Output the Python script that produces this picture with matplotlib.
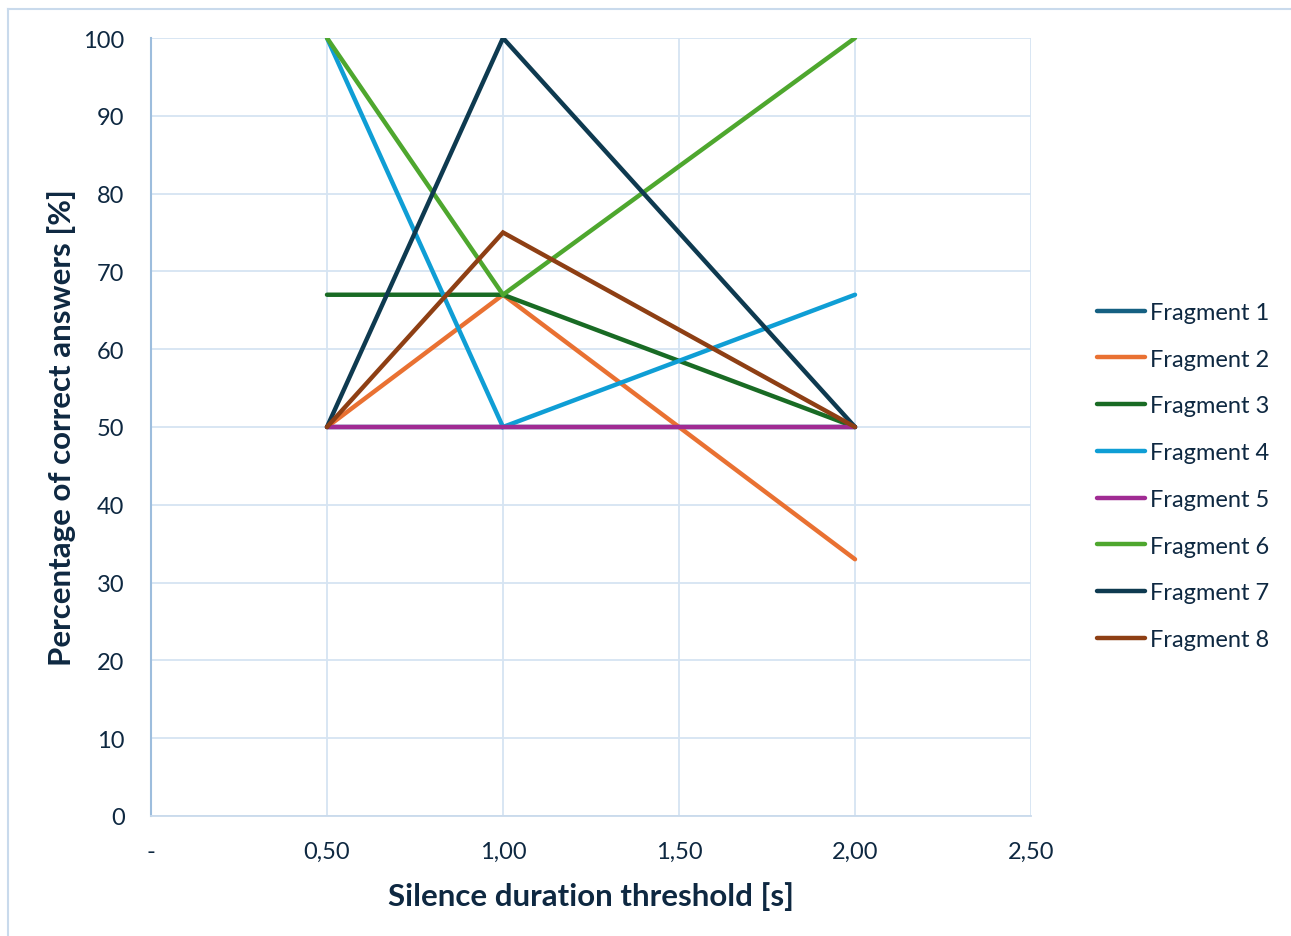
import matplotlib
matplotlib.use("Agg")
import matplotlib.pyplot as plt
from matplotlib.lines import Line2D
from matplotlib.ticker import FixedLocator, FuncFormatter

# Silence duration thresholds [s]
thresholds = [0.5, 1.0, 2.0]

# Percentage of correct answers per fragment
fragment_1 = [50, 50, 50]
fragment_2 = [50, 67, 33]
fragment_3 = [67, 67, 50]
fragment_4 = [100, 50, 67]
fragment_5 = [50, 50, 50]
fragment_6 = [100, 67, 100]
fragment_7 = [50, 100, 50]
fragment_8 = [50, 75, 50]

series_names = ["Fragment 1", "Fragment 2", "Fragment 3", "Fragment 4",
                "Fragment 5", "Fragment 6", "Fragment 7", "Fragment 8"]
series_values = [fragment_1, fragment_2, fragment_3, fragment_4,
                 fragment_5, fragment_6, fragment_7, fragment_8]
series_colors = ["#156082", "#E97132", "#196B24", "#0F9ED5",
                 "#A02B93", "#4EA72E", "#0E3A50", "#8E3F14"]

x_ticks = [0, 0.5, 1.0, 1.5, 2.0, 2.5]
y_ticks = list(range(0, 101, 10))

text_color = "#0E2841"
grid_color = "#D6E4F2"

plt.rcParams["font.family"] = ["Lato", "DejaVu Sans"]

fig = plt.figure(figsize=(12.91, 9.37), dpi=100)
ax = fig.add_axes([151 / 1291, 1 - 817 / 937, (1031 - 151) / 1291, (817 - 39) / 937])

for name, vals, col in zip(series_names, series_values, series_colors):
    ax.plot(thresholds, vals, color=col, lw=3.2, label=name,
            solid_capstyle="round", solid_joinstyle="miter", zorder=3)

ax.set_xlim(0, 2.5)
ax.set_ylim(0, 100)
ax.xaxis.set_major_locator(FixedLocator(x_ticks))
ax.yaxis.set_major_locator(FixedLocator(y_ticks))


def fmt_x(v, pos):
    if abs(v) < 1e-9:
        return "-"
    return f"{v:.2f}".replace(".", ",")


ax.xaxis.set_major_formatter(FuncFormatter(fmt_x))
ax.grid(True, color=grid_color, lw=1.3, zorder=0)
ax.tick_params(axis="both", length=0, labelsize=17, colors=text_color)
ax.tick_params(axis="x", pad=18)
ax.tick_params(axis="y", pad=19)

for side in ["top", "right"]:
    ax.spines[side].set_visible(False)
ax.spines["left"].set_color("#9DBDDD")
ax.spines["left"].set_linewidth(1.5)
ax.spines["bottom"].set_color("#C9DAEC")
ax.spines["bottom"].set_linewidth(1.3)

ax.set_xlabel("Silence duration threshold [s]", fontsize=22.5, fontweight="bold",
              color=text_color, labelpad=14)
ax.set_ylabel("Percentage of correct answers [%]", fontsize=22.5, fontweight="bold",
              color=text_color, labelpad=5)

leg = fig.legend(loc="center left", bbox_to_anchor=(1097 / 1291, 1 - 477 / 937),
                 frameon=False, fontsize=17, handlelength=2.05, handletextpad=0.2,
                 labelspacing=1.09, borderpad=0, borderaxespad=0)
for t in leg.get_texts():
    t.set_color(text_color)

# Outer chart frame (top and left edges)
fig.add_artist(Line2D([8 / 1291, 1.0], [1 - 10 / 937, 1 - 10 / 937],
                      transform=fig.transFigure, color="#C9DAEC", lw=1.5))
fig.add_artist(Line2D([8 / 1291, 8 / 1291], [0, 1 - 10 / 937],
                      transform=fig.transFigure, color="#C9DAEC", lw=1.5))

fig.savefig("out.png", dpi=100)
